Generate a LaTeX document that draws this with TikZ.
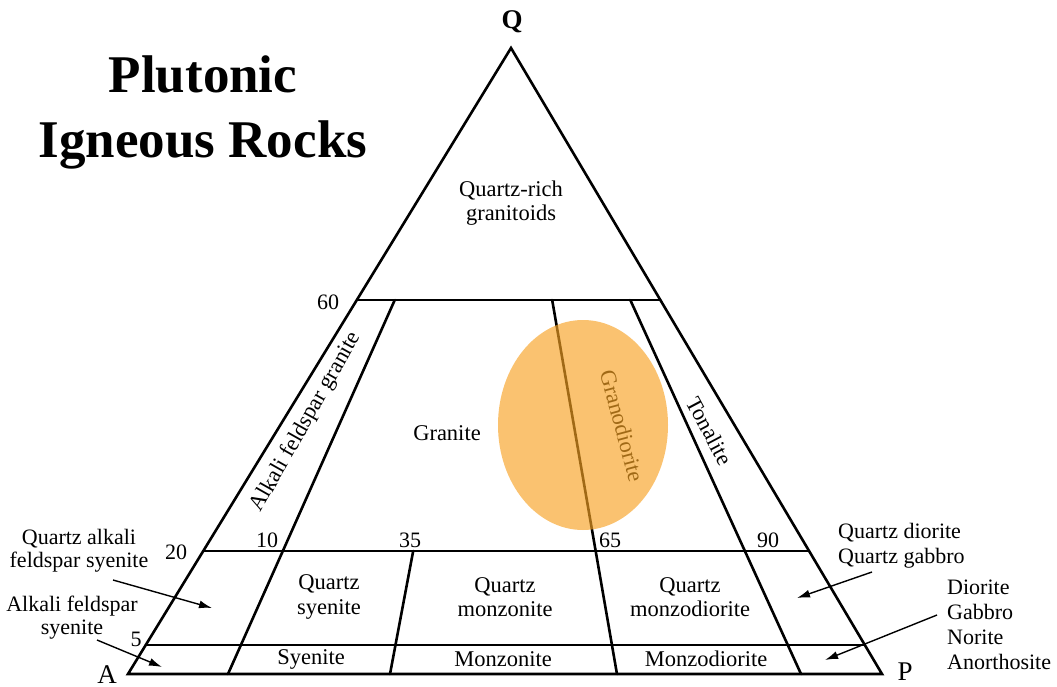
\documentclass[tikz,border=0pt]{standalone}
\usepackage{fontspec}
\setmainfont{Liberation Serif}
\usetikzlibrary{calc,arrows.meta}
\definecolor{granoOrange}{RGB}{247,162,35}
\begin{document}
\begin{tikzpicture}[x=1pt,y=-1pt,
  edge/.style={line width=2.6pt, line join=miter, line cap=round},
  pointer/.style={line width=1.4pt, -{Latex[length=13pt,width=8pt]}},
  lbl/.style={font=\fontsize{22.5}{24.5}\selectfont, inner sep=0pt, align=center},
  sidelbl/.style={font=\fontsize{22}{25}\selectfont, inner sep=0pt, align=left, anchor=west},
  num/.style={font=\fontsize{22}{24}\selectfont, inner sep=0pt},
  corner/.style={font=\fontsize{27}{30}\selectfont, inner sep=0pt},
  titletext/.style={font=\fontsize{53}{65}\selectfont\bfseries, inner sep=0pt, align=center},
  highlight/.style={fill=granoOrange, opacity=0.65}
]
\useasboundingbox (0,0) rectangle (1057,687);

% triangle corners
\coordinate (A) at (128,674);
\coordinate (P) at (882,674);
\coordinate (Q) at (511,48);

% horizontal line ends on the edges
\coordinate (L60) at ($(A)!0.5974!(Q)$);
\coordinate (R60) at ($(P)!0.5974!(Q)$);
\coordinate (L20) at ($(A)!0.1965!(Q)$);
\coordinate (R20) at ($(P)!0.1965!(Q)$);
\coordinate (L5)  at ($(A)!0.0463!(Q)$);
\coordinate (R5)  at ($(P)!0.0463!(Q)$);

% dividing line ends
\coordinate (T10) at ($(L60)!0.125!(R60)$);
\coordinate (B10) at ($(A)!0.1326!(P)$);
\coordinate (T35) at ($(L20)!0.3465!(R20)$);
\coordinate (B35) at ($(A)!0.3475!(P)$);
\coordinate (T65) at ($(L60)!0.6436!(R60)$);
\coordinate (B65) at ($(A)!0.6485!(P)$);
\coordinate (T90) at ($(L60)!0.901!(R60)$);
\coordinate (B90) at ($(A)!0.8926!(P)$);

% outline and fields
\draw[edge] (A) -- (Q) -- (P) -- cycle;
\draw[edge] (L60) -- (R60);
\draw[edge] (L20) -- (R20);
\draw[edge] (L5) -- (R5);
\draw[edge] (T10) -- (B10);
\draw[edge] (T35) -- (B35);
\draw[edge] (T65) -- (B65);
\draw[edge] (T90) -- (B90);

% title
\node[titletext] (title) at (203,112) {Plutonic\\Igneous Rocks};

% corner letters
\node[corner, font=\fontsize{27}{30}\selectfont\bfseries] (lq) at (512,22) {Q};
\node[corner] (la) at (107,675) {A};
\node[corner] (lp) at (905,672) {P};

% numbers
\node[num] (n60) at (328,302) {60};
\node[num] (n10) at (267,540) {10};
\node[num] (n35) at (410,540) {35};
\node[num] (n65) at (610,540) {65};
\node[num] (n90) at (768,540) {90};
\node[num] (n20) at (176,552) {20};
\node[num] (n5)  at (136,639) {5};

% field names
\node[lbl] (qrg) at (511,203) {Quartz-rich\\granitoids};
\node[lbl] (gra) at (447,433) {Granite};
\node[lbl, rotate=60.5] (afg) at (306,422) {Alkali feldspar granite};
\node[lbl, rotate=-75] (grd) at (622,426) {Granodiorite};
\node[lbl, rotate=-62] (ton) at (710,431) {Tonalite};
\node[lbl] (qsy) at (329,597) {Quartz\\syenite};
\node[lbl] (qmz) at (505,597) {Quartz\\monzonite};
\node[lbl] (qmd) at (690,597) {Quartz\\monzodiorite};
\node[lbl] (sye) at (311,659) {Syenite};
\node[lbl] (mzn) at (503,659) {Monzonite};
\node[lbl] (mzd) at (706,659) {Monzodiorite};

% highlight
\fill[highlight] (583,425) ellipse [x radius=85, y radius=105];

% outside labels
\node[lbl, font=\fontsize{22}{23}\selectfont] (qafs) at (79,551) {Quartz alkali\\feldspar syenite};
\node[lbl, font=\fontsize{22}{23}\selectfont] (afs) at (72,618) {Alkali feldspar\\syenite};
\node[sidelbl] (qdg) at (838,546) {Quartz diorite\\Quartz gabbro};
\node[sidelbl] (dgna) at (947,625) {Diorite\\Gabbro\\Norite\\Anorthosite};

% pointers
\coordinate (s1) at (113,580); \coordinate (e1) at (212,608);
\coordinate (s2) at (97,640);  \coordinate (e2) at (162,667);
\coordinate (s3) at (872,572); \coordinate (e3) at (797,598);
\coordinate (s4) at (937,615); \coordinate (e4) at (825,660);
\draw[pointer] (s1) -- (e1);
\draw[pointer] (s2) -- (e2);
\draw[pointer] (s3) -- (e3);
\draw[pointer] (s4) -- (e4);
\end{tikzpicture}
\end{document}
